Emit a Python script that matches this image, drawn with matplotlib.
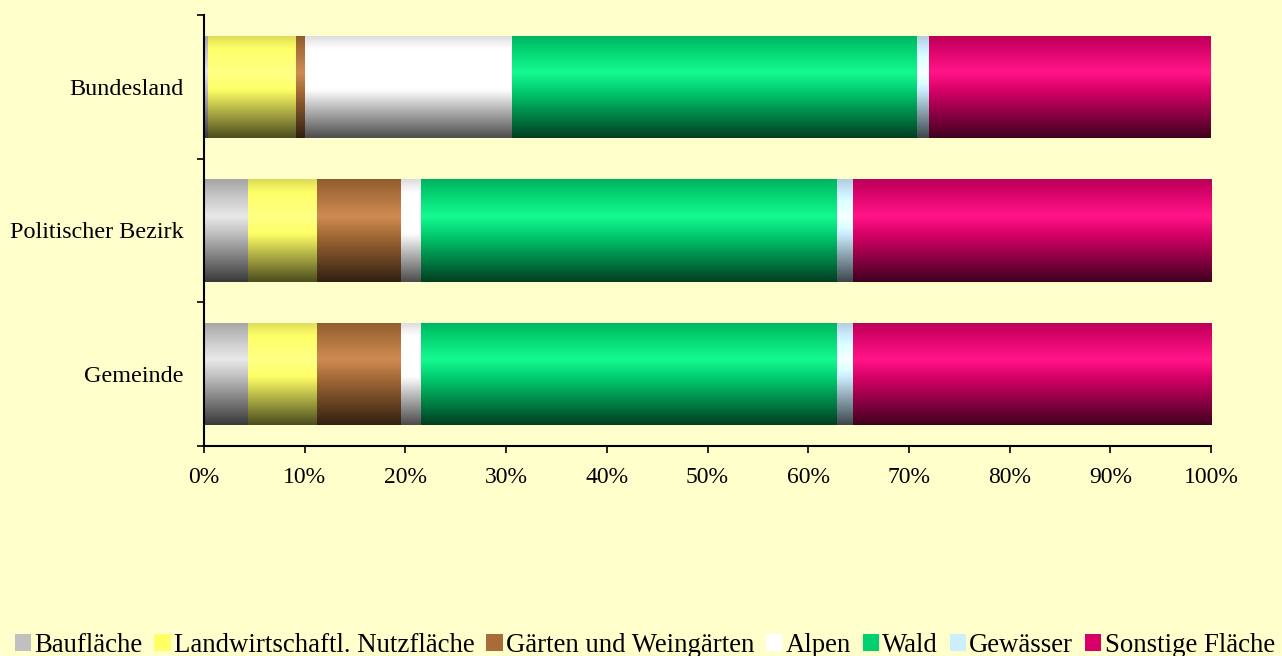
import numpy as np
import matplotlib
matplotlib.use("Agg")
import matplotlib.pyplot as plt
from matplotlib.patches import Patch
from matplotlib.colors import to_rgb

plt.rcParams['font.family'] = ['Liberation Serif', 'DejaVu Serif']

categories = ["Gemeinde", "Politischer Bezirk", "Bundesland"]
series_names = ["Baufläche", "Landwirtschaftl. Nutzfläche", "Gärten und Weingärten",
                "Alpen", "Wald", "Gewässer", "Sonstige Fläche"]
# values per category (Gemeinde, Politischer Bezirk, Bundesland), in %
bauflaeche = [4.4, 4.4, 0.4]
landwirtschaft = [6.8, 6.8, 8.7]
gaerten = [8.4, 8.4, 0.9]
alpen = [1.9, 1.9, 20.6]
wald = [41.4, 41.4, 40.2]
gewaesser = [1.5, 1.5, 1.2]
sonstige = [35.6, 35.6, 28.0]
series_values = [bauflaeche, landwirtschaft, gaerten, alpen, wald, gewaesser, sonstige]
colors = ["#C0C0C0", "#FFFF66", "#A86C38", "#FFFFFF", "#00D070", "#CCEEFF", "#D80068"]
xtick_labels = ["0%", "10%", "20%", "30%", "40%", "50%", "60%", "70%", "80%", "90%", "100%"]

BG = "#FFFFCC"

def gradient(color, n=128):
    base = np.array(to_rgb(color))
    t = np.linspace(0, 1, n)
    stops_t = [0.0, 0.08, 0.36, 0.55, 1.0]
    mult = np.interp(t, stops_t, [0.86, 0.95, 1.2, 0.97, 0.3])
    white = np.interp(t, stops_t, [0.0, 0.0, 0.08, 0.0, 0.0])
    out = np.empty((n, 1, 3))
    for i in range(n):
        c = np.clip(base * mult[i], 0, 1)
        c = c + (1 - c) * white[i]
        out[i, 0] = np.clip(c, 0, 1)
    return out

fig = plt.figure(figsize=(12.82, 6.56), dpi=100, facecolor=BG)
ax = fig.add_axes([204/1282, 1-446/656, 1007/1282, 431/656])
ax.set_facecolor(BG)

y = np.arange(len(categories))
height = 0.71
left = np.zeros(len(categories))
for name, vals, col in zip(series_names, series_values, colors):
    vals = np.array(vals)
    bars = ax.barh(y, vals, left=left, height=height, color=col, edgecolor='none', label=name)
    for b in bars:
        x0, y0 = b.get_x(), b.get_y()
        w, h = b.get_width(), b.get_height()
        im = ax.imshow(gradient(col), extent=(x0, x0 + w, y0, y0 + h), aspect='auto',
                       origin='upper', interpolation='bilinear', zorder=2)
        im.set_clip_path(b)
    left = left + vals

ax.set_xlim(0, 100)
ax.set_ylim(-0.5, len(categories) - 0.5)
ax.set_xticks(np.arange(0, 101, 10))
ax.set_xticklabels(xtick_labels, fontsize=17)
ax.set_yticks(y)
ax.set_yticklabels(categories, fontsize=17.4)
ax.set_yticks(np.arange(-0.5, len(categories), 1), minor=True)
ax.tick_params(axis='y', which='major', length=0, pad=15)
ax.tick_params(axis='y', which='minor', length=5, width=1.2, direction='out')
ax.tick_params(axis='x', which='major', length=5, width=1.2, direction='out', pad=10)
for s in ['top', 'right']:
    ax.spines[s].set_visible(False)
for s in ['left', 'bottom']:
    ax.spines[s].set_linewidth(1.5)
    ax.spines[s].set_color('black')

handles = [Patch(facecolor=c, edgecolor='none') for c in colors]
fig.legend(handles, series_names, loc='lower center', bbox_to_anchor=(0.503, -0.003), ncol=7,
           frameon=False, fontsize=19.3, handlelength=0.6, handleheight=0.6,
           handletextpad=0.12, columnspacing=0.45, borderaxespad=0, borderpad=0)

fig.savefig("out.png", dpi=100, facecolor=BG)
